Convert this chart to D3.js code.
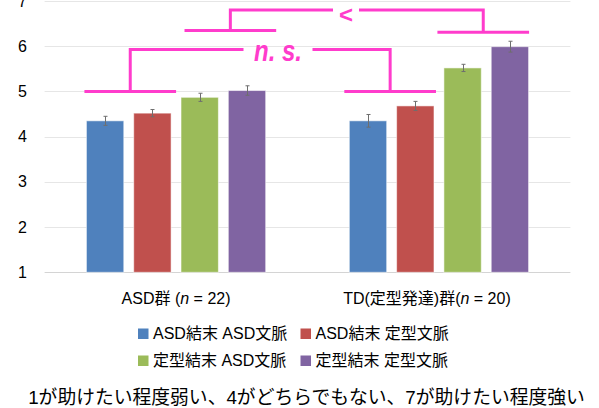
<!DOCTYPE html>
<html>
<head>
<meta charset="utf-8">
<script src="https://cdn.jsdelivr.net/npm/d3@7"></script>
<style>
  html, body { margin: 0; padding: 0; background: #fff; }
  svg { display: block; }
  text { font-family: "Liberation Sans", Arial, "Noto Sans CJK JP", sans-serif; }
</style>
</head>
<body>
<svg id="chart" width="599" height="408"></svg>
<script>
// Groups, conditions and mean ratings with standard errors
const groupPrefix = ["ASD群 (", "TD(定型発達)群("];
const groupN = [22, 20];
const series = ["ASD結末 ASD文脈", "ASD結末 定型文脈", "定型結末 ASD文脈", "定型結末 定型文脈"];
const colors = ["#4F81BD", "#C0504D", "#9BBB59", "#8064A2"];
const asdMeans = [4.35, 4.52, 4.87, 5.02];
const tdMeans = [4.35, 4.68, 5.52, 5.99];
const asdErr = [0.10, 0.08, 0.09, 0.105];
const tdErr = [0.14, 0.10, 0.08, 0.12];
const yTicks = [1, 2, 3, 4, 5, 6, 7];
const note = "1が助けたい程度弱い、4がどちらでもない、7が助けたい程度強い";

const means = [asdMeans, tdMeans];
const errs = [asdErr, tdErr];
const groups = [0, 1];

const svg = d3.select("#chart");
const pink = "#FF3CCC";

const x0 = d3.scaleBand().domain(groups).range([44.6, 570.4]).padding(0);
const x1 = d3.scaleBand().domain(d3.range(series.length))
  .range([0, x0.bandwidth()]).paddingInner(0.21).paddingOuter(0.884);
const y = d3.scaleLinear().domain([1, 7]).range([272.3, 1]);

// Gridlines
svg.append("g").selectAll("line").data(yTicks).join("line")
  .attr("x1", x0.range()[0]).attr("x2", x0.range()[1])
  .attr("y1", d => Math.round(y(d)) + 0.5).attr("y2", d => Math.round(y(d)) + 0.5)
  .attr("stroke", d => d === 1 ? "#d4d4d4" : "#e6e6e6").attr("stroke-width", 1);

// Y axis labels
const yAxis = d3.axisLeft(y).tickValues(yTicks).tickSize(0).tickPadding(0).tickFormat(d3.format("d"));
const yg = svg.append("g").attr("transform", "translate(27,0)").call(yAxis);
yg.select(".domain").remove();
yg.selectAll("text").style("font-size", "16px").style("fill", "#000")
  .style("font-family", '"Liberation Sans", Arial, sans-serif');

// Bars
const bars = [];
groups.forEach(g => series.forEach((s, i) => bars.push({ g, i, v: means[g][i], e: errs[g][i] })));

const bx = d => x0(d.g) + x1(d.i);
svg.append("g").selectAll("rect").data(bars).join("rect")
  .attr("x", bx).attr("width", x1.bandwidth())
  .attr("y", d => y(d.v)).attr("height", d => y(1) - y(d.v))
  .attr("fill", d => colors[d.i])
  .attr("stroke", "rgba(255,255,255,0.55)").attr("stroke-width", 1);

// Error bars
const eg = svg.append("g").attr("stroke", "#6e6e6e").attr("stroke-width", 1).attr("fill", "none");
bars.forEach(d => {
  const cx = Math.round(bx(d) + x1.bandwidth() / 2) + 0.5;
  const t = y(d.v + d.e), b = y(d.v - d.e);
  eg.append("line").attr("x1", cx).attr("x2", cx).attr("y1", t).attr("y2", b);
  eg.append("line").attr("x1", cx - 2).attr("x2", cx + 2).attr("y1", t).attr("y2", t);
  eg.append("line").attr("x1", cx - 2).attr("x2", cx + 2).attr("y1", b).attr("y2", b);
});

// Group labels
const gl = svg.append("g").attr("text-anchor", "middle").style("font-size", "16px").style("fill", "#000");
const labelShift = [0, -12];
groups.forEach(g => {
  const t = gl.append("text")
    .attr("x", x0(g) + x0.bandwidth() / 2 + labelShift[g]).attr("y", 304);
  t.append("tspan").text(groupPrefix[g]);
  t.append("tspan").style("font-style", "italic").text("n");
  t.append("tspan").text(" = " + groupN[g] + ")");
});

// Legend
const lg = svg.append("g").style("font-size", "16px").style("fill", "#000");
series.forEach((s, i) => {
  const col = i % 2, row = Math.floor(i / 2);
  const lx = 138 + col * 162.5, ly = 328.5 + row * 27;
  lg.append("rect").attr("x", lx).attr("y", ly).attr("width", 10.5).attr("height", 10.5).style("fill", colors[i]);
  lg.append("text").attr("x", lx + 15).attr("y", ly + 10).text(s);
});

// Scale explanation
svg.append("text").attr("x", 306.5).attr("y", 404).attr("text-anchor", "middle")
  .style("font-size", "18.8px").style("fill", "#000").text(note);

// Significance brackets
const ann = svg.append("g").attr("stroke", pink).attr("stroke-width", 3).attr("fill", "none");
function pairFoot(g, a, b, shift, yv) {
  const xa = x0(g) + x1(a) - 3.5 + shift;
  const xb = x0(g) + x1(b) + x1.bandwidth() + 3.5 + shift;
  const yy = y(yv);
  ann.append("line").attr("x1", xa).attr("x2", xb).attr("y1", yy).attr("y2", yy);
  return { mid: (xa + xb) / 2, y: yy };
}
function bracket(left, right, topV, gapCenter, gapW, label, textY) {
  const ty = y(topV);
  ann.append("path").attr("d",
    `M${left.mid},${left.y}V${ty}H${gapCenter - gapW / 2}` +
    `M${gapCenter + gapW / 2},${ty}H${right.mid}V${right.y}`);
  label(svg.append("text").attr("x", gapCenter).attr("y", textY).attr("text-anchor", "middle")
    .style("fill", pink).style("font-weight", "bold"));
}

// n.s. between groups for ASD-ending conditions
const nsL = pairFoot(0, 0, 1, 1.5, 5.0);
const nsR = pairFoot(1, 0, 1, -1.5, 5.0);
bracket(nsL, nsR, 5.93, 278, 69, t => t.style("font-style", "italic").style("font-size", "24px")
  .attr("transform", "translate(0,61) scale(1,1.2) translate(0,-61)").text("n. s."), 61);

// "<" between groups for typical-ending conditions
const ltL = pairFoot(0, 2, 3, 7, 6.35);
const ltR = pairFoot(1, 2, 3, -3, 6.31);
bracket(ltL, ltR, 6.8, 346, 26, t => t.style("font-size", "24px").text("<"), 22.5);
</script>
</body>
</html>
